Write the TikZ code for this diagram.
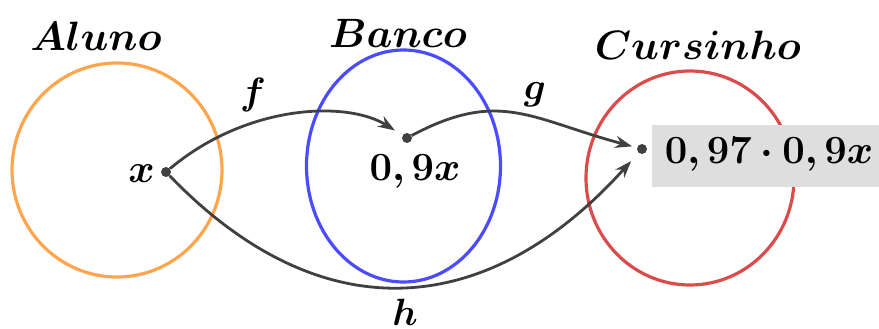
\RequirePackage{fix-cm}
\documentclass[tikz,border=0pt]{standalone}
\usepackage{amsmath,bm}
\usetikzlibrary{arrows.meta}
\definecolor{corange}{RGB}{255,165,77}
\definecolor{cblue}{RGB}{75,75,255}
\definecolor{cred}{RGB}{220,75,75}
\definecolor{cgray}{RGB}{64,64,64}
\definecolor{cbox}{RGB}{222,222,222}
\tikzset{
  setline/.style={line width=3.2pt},
  dotnode/.style={circle,fill=cgray,inner sep=0pt,minimum size=10pt},
  setname/.style={font=\fontsize{41}{46}\selectfont},
  valtext/.style={font=\fontsize{40}{46}\selectfont,inner sep=0pt},
  maparrow/.style={cgray,line width=2.8pt,-{Stealth[length=17pt,width=12pt]}},
  maplabel/.style={font=\fontsize{38}{44}\selectfont,inner sep=0pt}
}
\begin{document}
\begin{tikzpicture}[x=1pt,y=1pt]
\useasboundingbox (0,0) rectangle (879,329);
% sets
\draw[setline,corange] (117,159) ellipse [x radius=105,y radius=107];
\draw[setline,cblue] (403.5,163) ellipse [x radius=97,y radius=116];
\draw[setline,cred] (690,151) ellipse [x radius=104,y radius=107];
% set names
\node[setname] (nA) at (96,293) {$\boldsymbol{Aluno}$};
\node[setname] (nB) at (398,296) {$\boldsymbol{Banco}$};
\node[setname] (nC) at (698,284) {$\boldsymbol{Cursinho}$};
% box
\fill[cbox] (652,142) rectangle (879,204);
% points
\node[dotnode] (px) at (166,157) {};
\node[dotnode] (pb) at (407,191) {};
\node[dotnode] (pc) at (642,180) {};
\node[valtext,anchor=east] (lx) at (155,155) {$\boldsymbol{x}$};
\node[valtext] (lb) at (415,157) {$\boldsymbol{0,9x}$};
\node[valtext] (lc) at (769,174) {$\boldsymbol{0,97\cdot 0,9x}$};
% maps
\draw[maparrow,shorten >=9pt] (px) to[out=40,in=148,out distance=100pt,in distance=66pt] (pb);
\draw[maparrow,shorten >=5pt] (pb) to[out=28,in=165,out distance=100pt,in distance=110pt] (pc);
\draw[maparrow,shorten >=11pt] (px) to[out=-46,in=228,out distance=222pt,in distance=222pt] (pc);
% map labels
\node[maplabel] (lf) at (253,234) {$\boldsymbol{f}$};
\node[maplabel] (lg) at (535,234) {$\boldsymbol{g}$};
\node[maplabel] (lh) at (405,17) {$\boldsymbol{h}$};
\end{tikzpicture}
\end{document}
